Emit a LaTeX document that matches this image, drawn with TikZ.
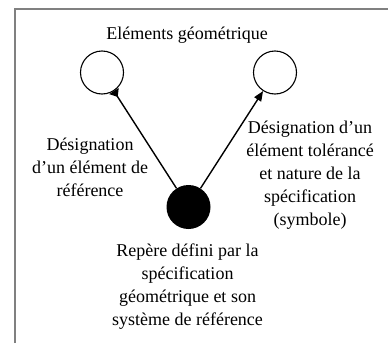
\documentclass[tikz,border=0pt]{standalone}
\usepackage{fontspec}
\setmainfont{Liberation Serif}
\usepackage{xcolor}
\usetikzlibrary{positioning,arrows.meta}
\definecolor{framegrey}{HTML}{808080}

\begin{document}
\begin{tikzpicture}[x=1pt, y=-1pt,
    every node/.style={font=\fontsize{18}{23}\selectfont, align=center},
    elem/.style={circle, draw, line width=1.1pt, minimum size=43pt, inner sep=0pt},
    repere/.style={circle, fill=black, minimum size=44pt, inner sep=0pt},
    lien/.style={line width=1.4pt},
    versref/.style={lien, -{Triangle[reversed, length=7pt, width=11pt]}},
    verstol/.style={lien, -{Triangle[length=10pt, width=8pt]}}
  ]

  \useasboundingbox (0,0) rectangle (388,343);
  \draw[framegrey, line width=2pt] (14.5,343) -- (14.5,8.5) -- (388,8.5);

  \node[elem] (geoA) at (102,72.5) {};
  \node[elem] (geoB) at (275,72.5) {};
  \node[repere] (rep) at (188.5,207) {};

  \node (titre) at (187,35) {Eléments géométrique};
  \node (ref) at (90,167) {Désignation\\d'un élément de\\référence};
  \node (tol) at (310,175) {Désignation d'un\\élément tolérancé\\et nature de la\\spécification\\(symbole)};
  \node (sys) at (187.5,287) {Repère défini par la\\spécification\\géométrique et son\\système de référence};

  \draw[versref] (rep) -- (geoA);
  \draw[verstol] (rep) -- (geoB);

\end{tikzpicture}
\end{document}
